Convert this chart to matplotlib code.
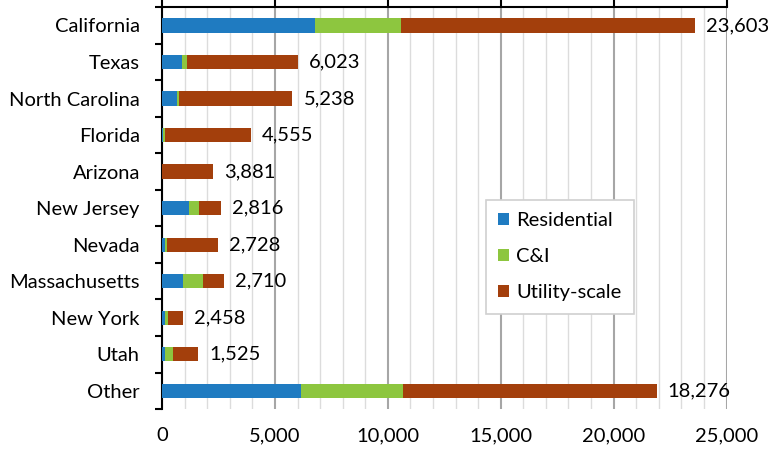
import numpy as np
import matplotlib
matplotlib.use("Agg")
import matplotlib.pyplot as plt
from matplotlib.ticker import MultipleLocator, FuncFormatter

plt.rcParams['font.family'] = ['Lato', 'DejaVu Sans']

# Data (MW)
states = ["California", "Texas", "North Carolina", "Florida", "Arizona",
          "New Jersey", "Nevada", "Massachusetts", "New York", "Utah", "Other"]
residential = [6770, 900, 650, 40, 0, 1210, 120, 940, 150, 150, 6140]
commercial = [3800, 200, 120, 90, 0, 440, 115, 890, 100, 350, 4530]
utility = [13020, 4900, 5000, 3810, 2260, 950, 2225, 910, 665, 1100, 11230]
totals = ["23,603", "6,023", "5,238", "4,555", "3,881", "2,816",
          "2,728", "2,710", "2,458", "1,525", "18,276"]

c_res = "#1f7bc1"
c_ci = "#8dc63f"
c_util = "#a33f0c"
fs = 14.5

fig = plt.figure(figsize=(7.68, 4.51), dpi=100)
ax = fig.add_axes([0.211, 0.093, 0.735, 0.891])

y = np.arange(len(states))
res = np.array(residential)
ci = np.array(commercial)
ut = np.array(utility)
h = 0.39
ax.barh(y, res, height=h, color=c_res, label="Residential", zorder=3)
ax.barh(y, ci, left=res, height=h, color=c_ci, label="C&I", zorder=3)
ax.barh(y, ut, left=res + ci, height=h, color=c_util, label="Utility-scale", zorder=3)

end = res + ci + ut
for yi, xe, t in zip(y, end, totals):
    ax.annotate(t, (xe, yi), xytext=(8, 0), textcoords="offset points",
                va="center", ha="left", fontsize=fs)

ax.set_xlim(0, 25000)
ax.set_ylim(len(states) - 0.5, -0.5)
ax.set_yticks(y)
ax.set_yticklabels(states, fontsize=fs)
ax.set_yticks(np.arange(-0.5, len(states)), minor=True)
ax.tick_params(axis="y", which="major", length=0, pad=16)
ax.tick_params(axis="y", which="minor", length=5, width=1.5, direction="out")

ax.xaxis.set_major_locator(MultipleLocator(5000))
ax.xaxis.set_minor_locator(MultipleLocator(1000))
ax.xaxis.set_major_formatter(FuncFormatter(lambda v, p: f"{int(v):,}"))
ax.tick_params(axis="x", which="major", top=True, bottom=False, labeltop=False,
               labelbottom=True, length=5, width=1.5, labelsize=fs, pad=8)
ax.tick_params(axis="x", which="minor", top=False, bottom=False)
ax.grid(axis="x", which="major", color="#a6a6a6", linewidth=1.5, zorder=0)
ax.grid(axis="x", which="minor", color="#dcdcdc", linewidth=1, zorder=0)
ax.set_axisbelow(True)

ax.spines["bottom"].set_visible(False)
ax.spines["right"].set_visible(False)
ax.spines["top"].set_linewidth(1.5)
ax.spines["left"].set_linewidth(1.5)

leg = ax.legend(loc="upper left", bbox_to_anchor=(0.574, 0.52), borderaxespad=0,
                fontsize=fs, handlelength=0.55, handleheight=0.55, handletextpad=0.35,
                labelspacing=0.95, borderpad=0.6, fancybox=False, framealpha=1)
leg.get_frame().set_edgecolor("#d0d0d0")
leg.get_frame().set_linewidth(1.2)

fig.savefig("out.png", dpi=100)
